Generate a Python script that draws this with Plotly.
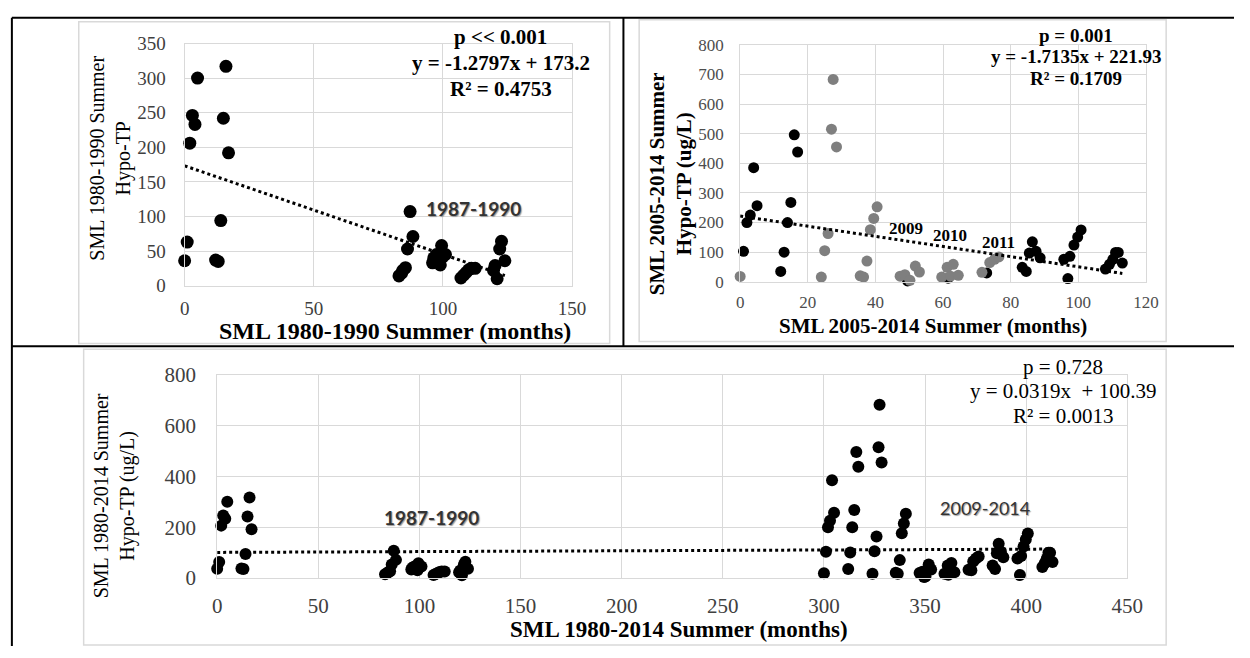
import plotly.graph_objects as go

W, H = 1250, 658

# ---------------- data ----------------
# SML 1980-1990 summer: months vs hypolimnetic TP
tl_x = [0, 1, 2, 3, 4, 5, 12, 13, 14, 15, 16, 17,
        83, 84, 84.5, 85.5, 86.3, 87.3, 88.4,
        96, 96.5, 97.5, 98, 99, 99.5, 100, 101,
        107, 108, 109, 110, 111, 112.5,
        119.6, 120.2, 121, 122, 122.7, 124]
tl_y = [36, 63, 206, 246, 233, 300, 37, 35, 94, 242, 317, 192,
        14, 18, 22, 26, 53, 107, 71,
        33, 40, 45, 36, 30, 58, 42, 45,
        11, 15, 19, 23, 25, 25,
        22, 29, 10, 53, 64, 36]

# SML 2005-2014 summer (black and grey groups)
tr_black_x = [1, 2, 3, 4, 5, 12, 13, 14, 15, 16, 17, 49.5, 61.5, 72.9,
              83.4, 84.6, 85.5, 86.4, 87.5, 88.7, 95.7, 96.9, 97.5, 98.7,
              99.8, 100.8, 108, 109.2, 110.2, 111, 111.8, 113]
tr_black_y = [103, 200, 225, 385, 257, 35, 100, 200, 268, 496, 438, 3, 12, 30,
              49, 35, 97, 135, 103, 81, 76, 11, 86, 124,
              151, 175, 43, 59, 76, 99, 99, 63]
tr_grey_x = [0, 24, 25, 26, 27, 27.5, 28.5, 35.5, 36.5, 37.5, 38.5, 39.5, 40.5,
             47.3, 48.7, 50.2, 51.8, 53, 59.6, 61.2, 62.2, 63, 64.5,
             71.5, 73.8, 75.2, 76.5]
tr_grey_y = [18, 16, 105, 163, 515, 683, 455, 20, 16, 70, 176, 214, 253,
             19, 24, 5, 53, 33, 16, 49, 19, 59, 22,
             32, 65, 76, 84]

# months from Jan 1980 to Jan 2005 (offset of the 2005-2014 record in the full record)
OFFSET_2005 = 300
b_x = tl_x + [v + OFFSET_2005 for v in tr_black_x] + [v + OFFSET_2005 for v in tr_grey_x]
b_y = tl_y + tr_black_y + tr_grey_y

# regression lines as printed on the chart
tl_fit = (-1.2797, 173.2)
tr_fit = (-1.7135, 221.93)
b_fit = (0.0319, 100.39)

SERIF = "Liberation Serif"
GRID = "#d9d9d9"


def px(x):
    return x / W


def py(y):
    return 1 - y / H


def fit_line(xs, coef):
    x0, x1 = min(xs), max(xs)
    return [x0, x1], [coef[0] * x0 + coef[1], coef[0] * x1 + coef[1]]


fig = go.Figure()

# --- top-left
fig.add_trace(go.Scatter(x=tl_x, y=tl_y, mode="markers", xaxis="x", yaxis="y",
                         marker=dict(color="black", size=13), cliponaxis=False))
lx, ly = fit_line(tl_x, tl_fit)
fig.add_trace(go.Scatter(x=lx, y=ly, mode="lines", xaxis="x", yaxis="y",
                         line=dict(color="black", width=3, dash="dot")))
# --- top-right
fig.add_trace(go.Scatter(x=tr_black_x, y=tr_black_y, mode="markers", xaxis="x2", yaxis="y2",
                         marker=dict(color="black", size=11), cliponaxis=False))
fig.add_trace(go.Scatter(x=tr_grey_x, y=tr_grey_y, mode="markers", xaxis="x2", yaxis="y2",
                         marker=dict(color="#7f7f7f", size=11), cliponaxis=False))
lx, ly = fit_line(tr_black_x + tr_grey_x, tr_fit)
fig.add_trace(go.Scatter(x=lx, y=ly, mode="lines", xaxis="x2", yaxis="y2",
                         line=dict(color="black", width=3, dash="dot")))
# --- bottom
fig.add_trace(go.Scatter(x=b_x, y=b_y, mode="markers", xaxis="x3", yaxis="y3",
                         marker=dict(color="black", size=12), cliponaxis=False))
lx, ly = fit_line(b_x, b_fit)
fig.add_trace(go.Scatter(x=lx, y=ly, mode="lines", xaxis="x3", yaxis="y3",
                         line=dict(color="black", width=3, dash="dot")))


def axis(domain, rng, dtick, anchor, fsize, color, ticklen):
    return dict(domain=domain, range=rng, dtick=dtick, anchor=anchor,
                showgrid=True, gridcolor=GRID, gridwidth=1,
                zeroline=False, showline=True, linecolor=GRID, mirror=True,
                ticks="outside", ticklen=ticklen, tickcolor="rgba(0,0,0,0)",
                tickfont=dict(family=SERIF, size=fsize, color=color),
                fixedrange=True)


layout = dict(
    width=W, height=H, margin=dict(l=0, r=0, t=0, b=0),
    paper_bgcolor="white", plot_bgcolor="white", showlegend=False,
    xaxis=axis([px(182.7), px(576.7)], [0, 150], 50, "y", 19, "#404040", 6),
    yaxis=axis([py(284), py(32.7)], [0, 350], 50, "x", 19, "#404040", 14),
    xaxis2=axis([px(747.7), px(1160.5)], [0, 120], 20, "y2", 17, "#4d4d4d", 5),
    yaxis2=axis([py(280), py(34)], [0, 800], 100, "x2", 17, "#4d4d4d", 12),
    xaxis3=axis([px(215.8), px(1141.5)], [0, 450], 50, "y3", 21, "#404040", 9),
    yaxis3=axis([py(587.3), py(376.7)], [0, 800], 200, "x3", 21, "#404040", 16),
)

shapes = []
# chart frames
for x0, y0, x1, y1 in [(75, 10, 615, 344), (645, 8, 1181, 342), (80, 350, 1181, 657)]:
    shapes.append(dict(type="rect", xref="paper", yref="paper",
                       x0=px(x0), x1=px(x1), y0=py(y1), y1=py(y0),
                       line=dict(color=GRID, width=1.5)))
# table borders
for x0, y0, x1, y1 in [(7, 6, 1250, 6), (7, 6, 7, 658), (629, 6, 629, 347), (7, 347, 1250, 347)]:
    shapes.append(dict(type="line", xref="paper", yref="paper",
                       x0=px(x0), x1=px(x1), y0=py(y0), y1=py(y1),
                       line=dict(color="black", width=2)))
layout["shapes"] = shapes

SHADOW = "1px 1px 1px #9a9a9a"


def pann(text, x, y, size, bold=False, angle=0, family=SERIF, color="black"):
    t = f"<b>{text}</b>" if bold else text
    return dict(text=t, xref="paper", yref="paper", x=px(x), y=py(y),
                xanchor="center", yanchor="middle", showarrow=False, textangle=angle,
                font=dict(family=family, size=size, color=color))


def dann(text, x, y, xr, yr, size, bold=False, family=SERIF, color="black", shadow=None):
    t = f"<b>{text}</b>" if bold else text
    f = dict(family=family, size=size, color=color)
    if shadow:
        f["shadow"] = shadow
    return dict(text=t, xref=xr, yref=yr, x=x, y=y, xanchor="center", yanchor="middle",
                showarrow=False, font=f)


anns = [
    # top-left
    pann("p << 0.001", 504, 26, 21, True),
    pann("y = -1.2797x + 173.2", 504, 53, 21, True),
    pann("R² = 0.4753", 504, 80, 21, True),
    pann("SML 1980-1990 Summer<br>Hypo-TP", 107, 152, 20, False, -90),
    pann("SML 1980-1990 Summer (months)", 396.5, 331, 24, True),
    dann("1987-1990", 111.7, 111.5, "x", "y", 19, True, "Lato", "#333333", SHADOW),
    # top-right
    pann("p = 0.001", 1089, 24, 19, True),
    pann("y = -1.7135x + 221.93", 1089, 46.7, 19, True),
    pann("R² = 0.1709", 1089, 69.3, 19, True),
    pann("SML 2005-2014 Summer<br>Hypo-TP (ug/L)", 677, 178, 21, True, -90),
    pann("SML 2005-2014 Summer (months)", 943.5, 326, 21, True),
    dann("2009", 49, 180, "x2", "y2", 17, True),
    dann("2010", 62, 157, "x2", "y2", 17, True),
    dann("2011", 76.5, 132, "x2", "y2", 17, True),
    # bottom
    pann("p = 0.728", 1075.7, 368.3, 21),
    pann("y = 0.0319x  + 100.39", 1075.7, 393.3, 21),
    pann("R² = 0.0013", 1075.7, 419.3, 21),
    pann("SML 1980-2014 Summer<br>Hypo-TP (ug/L)", 111.5, 502, 20, False, -90),
    pann("SML 1980-2014 Summer (months)", 686, 641, 23, True),
    dann("1987-1990", 106, 237, "x3", "y3", 19, True, "Lato", "#333333", SHADOW),
    dann("2009-2014", 379.6, 274, "x3", "y3", 18, False, "Lato", "#333333", SHADOW),
]
layout["annotations"] = anns

fig.update_layout(**layout)
fig.write_html("out.html", config={"displayModeBar": False},
               post_script="document.body.style.margin='0';document.body.style.overflow='hidden';")
